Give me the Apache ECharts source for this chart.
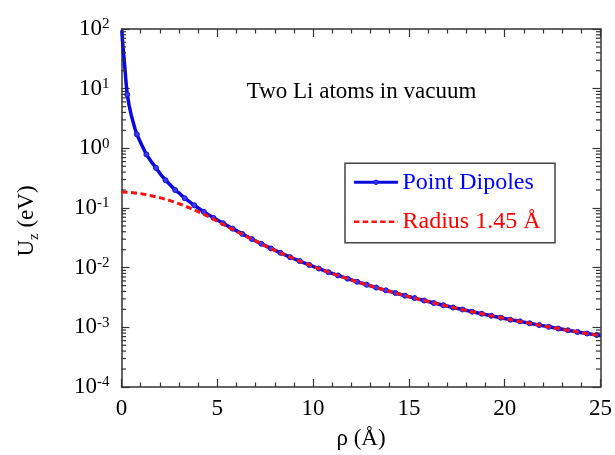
<!DOCTYPE html>
<html>
<head>
<meta charset="utf-8">
<script src="https://cdn.jsdelivr.net/npm/echarts@6/dist/echarts.min.js"></script>
<style>
html,body{margin:0;padding:0;background:#fff;}
#chart{width:615px;height:455px;}
</style>
</head>
<body>
<div id="chart"></div>
<script>
// ---- Data ----
// Point dipoles: extra line points (no marker drawn)
const pdLineRho = [0.02, 0.05, 0.1, 0.15, 0.2, 0.25, 0.4, 0.5, 0.6, 0.7, 1.05, 1.55, 2.05, 2.55, 3.05, 25.0];
const pdLineU   = [95, 63, 42, 28, 18, 11.5, 5.2, 3.7, 2.8, 2.15, 1.15, 0.60, 0.363, 0.243, 0.174, 0.000726];
// Point dipoles: marked points
const pdMarkRho = [0.3, 0.8, 1.3, 1.8, 2.3, 2.8, 3.3, 3.8, 4.3, 4.8,
  5.3, 5.8, 6.3, 6.8, 7.3, 7.8, 8.3, 8.8, 9.3, 9.8,
  10.3, 10.8, 11.3, 11.8, 12.3, 12.8, 13.3, 13.8, 14.3, 14.8,
  15.3, 15.8, 16.3, 16.8, 17.3, 17.8, 18.3, 18.8, 19.3, 19.8,
  20.3, 20.8, 21.3, 21.8, 22.3, 22.8, 23.3, 23.8, 24.3, 24.8];
const pdMarkU = [8.0, 1.72, 0.79, 0.47, 0.292, 0.200, 0.146, 0.111, 0.0861, 0.0684,
  0.0556, 0.0451, 0.0368, 0.0302, 0.0251, 0.0210, 0.0177, 0.0150, 0.0129, 0.0111,
  0.00966, 0.00841, 0.00742, 0.00654, 0.00580, 0.00517, 0.00463, 0.00417, 0.00376, 0.00339,
  0.00309, 0.00281, 0.00256, 0.00235, 0.00215, 0.00199, 0.00183, 0.00169, 0.00156, 0.00145,
  0.00134, 0.00126, 0.00117, 0.00109, 0.00102, 0.000953, 0.000893, 0.000838, 0.000788, 0.000744];
// Radius 1.45 Å
const radRho = [0, 0.5, 1, 1.5, 2, 2.5, 3, 3.5, 4, 4.5, 5, 5.5, 6, 6.5, 7, 7.5, 8, 8.5, 9, 9.5,
  10, 10.5, 11, 11.5, 12, 12.5, 13, 13.5, 14, 14.5, 15, 15.5, 16, 16.5, 17, 17.5, 18, 18.5, 19, 19.5,
  20, 20.5, 21, 21.5, 22, 22.5, 23, 23.5, 24, 24.5, 25];
const radU = [0.185, 0.182, 0.174, 0.162, 0.149, 0.134, 0.118, 0.102, 0.087, 0.0728,
  0.0600, 0.0492, 0.0405, 0.0338, 0.0282, 0.0232, 0.0195, 0.01653, 0.01413, 0.01213,
  0.0105, 0.00913, 0.00800, 0.00705, 0.00623, 0.00554, 0.00495, 0.00444, 0.00400, 0.00361,
  0.00327, 0.00297, 0.00271, 0.00248, 0.00227, 0.00208, 0.00192, 0.00177, 0.00164, 0.00152,
  0.00141, 0.00131, 0.00122, 0.00114, 0.00106, 0.000992, 0.000929, 0.000871, 0.000817, 0.000770,
  0.000726];
const xTicks = {min: 0, max: 25, interval: 5};
const yRange = {min: 1e-4, max: 100};
const yDecades = [-4, -3, -2, -1, 0, 1];
const yMinorMantissas = [2, 3, 4, 5, 6, 7, 8, 9];
const seriesNames = ['Point Dipoles', 'Radius 1.45 Å'];
const titleText = 'Two Li atoms in vacuum';

// ---- Build ----
const FONT = '"Liberation Serif", "Times New Roman", serif';
const BLUE = '#0a0adc';
const RED = '#ff1010';
const AX = '#333333';

const pdPts = [];
pdLineRho.forEach((r, i) => pdPts.push({value: [r, pdLineU[i]], symbol: 'none'}));
pdMarkRho.forEach((r, i) => pdPts.push({value: [r, pdMarkU[i]]}));
pdPts.sort((a, b) => a.value[0] - b.value[0]);
const radData = radRho.map((r, i) => [r, radU[i]]);

function xAxisCfg(pos, showLabel) {
  return {
    type: 'value', position: pos, min: xTicks.min, max: xTicks.max, interval: xTicks.interval,
    axisLine: {show: true, onZero: false, lineStyle: {color: AX, width: 1.5}},
    axisTick: {show: true, inside: true, length: 8, lineStyle: {color: AX, width: 1.2}},
    minorTick: {show: true, splitNumber: 5, length: 4.5, lineStyle: {color: AX, width: 1.2}},
    splitLine: {show: false},
    axisLabel: {show: showLabel, fontSize: 23, color: '#000', fontFamily: FONT, margin: 10},
    name: showLabel ? 'ρ (Å)' : '', nameLocation: 'middle', nameGap: 40,
    nameTextStyle: {fontSize: 23, color: '#000', fontFamily: FONT}
  };
}
function yAxisCfg(pos, showLabel) {
  return {
    type: 'log', logBase: 10, position: pos, min: yRange.min, max: yRange.max,
    axisLine: {show: true, onZero: false, lineStyle: {color: AX, width: 1.5}},
    axisTick: {show: true, inside: true, length: 8, lineStyle: {color: AX, width: 1.2}},
    minorTick: {show: false},
    splitLine: {show: false},
    axisLabel: {
      show: showLabel, margin: 12,
      formatter: function (v) {
        const e = Math.round(Math.log10(v));
        return '{b|10}{s|' + (e < 0 ? '-' + (-e) : e) + '}';
      },
      rich: {
        b: {fontSize: 23, fontFamily: FONT, color: '#000', lineHeight: 24},
        s: {fontSize: 15, fontFamily: FONT, color: '#000', verticalAlign: 'top', lineHeight: 24, padding: [0, 0, 8, 0]}
      }
    }
  };
}

const LX = 345, LY = 163.3, LW = 210, LH = 79.4;
const legendRows = [
  {name: seriesNames[0], y: LY + 19, color: '#0000ff'},
  {name: seriesNames[1], y: LY + 58.4, color: '#ff0000'}
];

const chart = echarts.init(document.getElementById('chart'), null, {renderer: 'canvas'});
chart.setOption({
  backgroundColor: '#fff',
  animation: false,
  grid: {left: 121.5, right: 13.5, top: 29, bottom: 66},
  xAxis: [xAxisCfg('bottom', true), xAxisCfg('top', false)],
  yAxis: [yAxisCfg('left', true), yAxisCfg('right', false)],
  graphic: [
    {type: 'text', x: 361.5, y: 92, z: 100, style: {text: titleText, fontSize: 23, fontFamily: FONT, fill: '#000', align: 'center', verticalAlign: 'middle'}},
    {type: 'text', x: 27, y: 221, rotation: Math.PI / 2, z: 100,
     style: {text: 'U{sub|z} (eV)', fontSize: 23, fontFamily: FONT, fill: '#000', align: 'center', verticalAlign: 'middle',
       rich: {sub: {fontSize: 15, fontFamily: FONT, fill: '#000', verticalAlign: 'bottom', lineHeight: 30}}}},
    // legend box
    {type: 'rect', z: 100, shape: {x: LX, y: LY, width: LW, height: LH}, style: {fill: '#fff', stroke: '#444', lineWidth: 1.5}},
    {type: 'line', z: 101, shape: {x1: LX + 9, y1: legendRows[0].y, x2: LX + 53, y2: legendRows[0].y}, style: {stroke: BLUE, lineWidth: 3}},
    {type: 'circle', z: 102, shape: {cx: LX + 31, cy: legendRows[0].y, r: 2.2}, style: {fill: '#3a3aff', stroke: BLUE, lineWidth: 1}},
    {type: 'text', z: 101, x: LX + 57.5, y: legendRows[0].y, style: {text: legendRows[0].name, fontSize: 24, fontFamily: FONT, fill: legendRows[0].color, verticalAlign: 'middle'}},
    {type: 'line', z: 101, shape: {x1: LX + 9, y1: legendRows[1].y, x2: LX + 53, y2: legendRows[1].y}, style: {stroke: RED, lineWidth: 2.5, lineDash: [5.5, 3.2]}},
    {type: 'text', z: 101, x: LX + 57.5, y: legendRows[1].y, style: {text: legendRows[1].name, fontSize: 24, fontFamily: FONT, fill: legendRows[1].color, verticalAlign: 'middle'}}
  ],
  series: [
    {
      name: seriesNames[0], type: 'line', xAxisIndex: 0, yAxisIndex: 0,
      data: pdPts, symbol: 'circle', symbolSize: 5, showSymbol: true,
      lineStyle: {color: BLUE, width: 3.5, join: 'round'},
      itemStyle: {color: '#3a3aff', borderColor: '#1515c8', borderWidth: 1},
      z: 2, clip: true
    },
    {
      name: seriesNames[1], type: 'line', xAxisIndex: 0, yAxisIndex: 0,
      data: radData, symbol: 'none', showSymbol: false,
      lineStyle: {color: RED, width: 3, type: [6, 3.5]},
      itemStyle: {color: RED},
      z: 3, clip: true
    },
    {
      type: 'custom', xAxisIndex: 0, yAxisIndex: 0, silent: true, z: 4, clip: false,
      data: [[xTicks.min, yRange.min]],
      renderItem: function (params, api) {
        const children = [];
        yDecades.forEach(function (e) {
          yMinorMantissas.forEach(function (m) {
            const v = m * Math.pow(10, e);
            const pl = api.coord([xTicks.min, v]);
            const pr = api.coord([xTicks.max, v]);
            children.push({type: 'line', shape: {x1: pl[0], y1: pl[1], x2: pl[0] + 4.5, y2: pl[1]}, style: {stroke: AX, lineWidth: 1.2}});
            children.push({type: 'line', shape: {x1: pr[0], y1: pr[1], x2: pr[0] - 4.5, y2: pr[1]}, style: {stroke: AX, lineWidth: 1.2}});
          });
        });
        return {type: 'group', children: children};
      }
    }
  ]
});
</script>
</body>
</html>
